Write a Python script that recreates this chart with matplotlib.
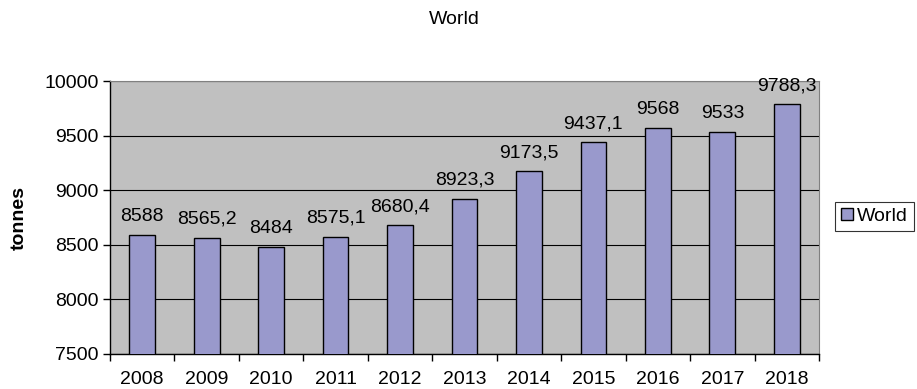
import matplotlib
matplotlib.use("Agg")
import matplotlib.pyplot as plt
import numpy as np

years = ["2008", "2009", "2010", "2011", "2012", "2013", "2014", "2015", "2016", "2017", "2018"]
values = [8588, 8565.2, 8484, 8575.1, 8680.4, 8923.3, 9173.5, 9437.1, 9568, 9533, 9788.3]
labels = ["8588", "8565,2", "8484", "8575,1", "8680,4", "8923,3", "9173,5", "9437,1", "9568", "9533", "9788,3"]
series_name = "World"
title = "World"
ylabel = "tonnes"

FS = 14
plt.rcParams['font.family'] = ['Liberation Sans', 'DejaVu Sans']
fig = plt.figure(figsize=(9.17, 3.89), dpi=100)
W, H = 917, 389
left, right, top, bottom = 110, 819, 81, 354
ax = fig.add_axes([left / W, 1 - bottom / H, (right - left) / W, (bottom - top) / H])
ax.set_facecolor("#C0C0C0")

x = np.arange(len(years))
bars = ax.bar(x, values, width=0.4, color="#9999CC", edgecolor="black", linewidth=1.0,
              zorder=3, label=series_name)
ax.set_xlim(-0.5, len(years) - 0.5)
ax.set_ylim(7500, 10000)
ax.set_yticks(np.arange(7500, 10001, 500))
ax.yaxis.grid(True, color="black", linewidth=0.8, zorder=1)
ax.set_axisbelow(True)

for xi, v, lab in zip(x, values, labels):
    ax.annotate(lab, (xi, v), xytext=(0, 7), textcoords="offset points",
                ha="center", va="bottom", fontsize=FS, zorder=4, annotation_clip=False)

ax.set_xticks(x)
ax.set_xticklabels(years, fontsize=FS)
ax.tick_params(axis="x", length=0, pad=12)
ax.set_xticks(np.arange(-0.5, len(years), 1), minor=True)
ax.tick_params(axis="x", which="minor", length=5, direction="out", width=1)
ax.tick_params(axis="y", length=5, direction="out", width=1, labelsize=FS, pad=3)

for s in ["top", "right"]:
    ax.spines[s].set_color("#808080")
    ax.spines[s].set_linewidth(0.8)
for s in ["left", "bottom"]:
    ax.spines[s].set_color("black")
    ax.spines[s].set_linewidth(1.0)

ax.set_ylabel(ylabel, fontsize=FS, fontweight="bold")
ax.yaxis.set_label_coords(28 / W, 0.5 * ((H - top) + (H - bottom)) / H, transform=fig.transFigure)
fig.text(454 / W, 1 - 19 / H, title, ha="center", va="center", fontsize=FS)

leg = ax.legend(loc="center left", bbox_to_anchor=(835 / W, 1 - 216.5 / H), bbox_transform=fig.transFigure,
                frameon=True, fontsize=FS, handlelength=0.6, handleheight=0.6,
                handletextpad=0.25, borderpad=0.3, fancybox=False, borderaxespad=0)
leg.get_frame().set_edgecolor("black")
leg.get_frame().set_linewidth(0.8)

fig.savefig("out.png", dpi=100)
